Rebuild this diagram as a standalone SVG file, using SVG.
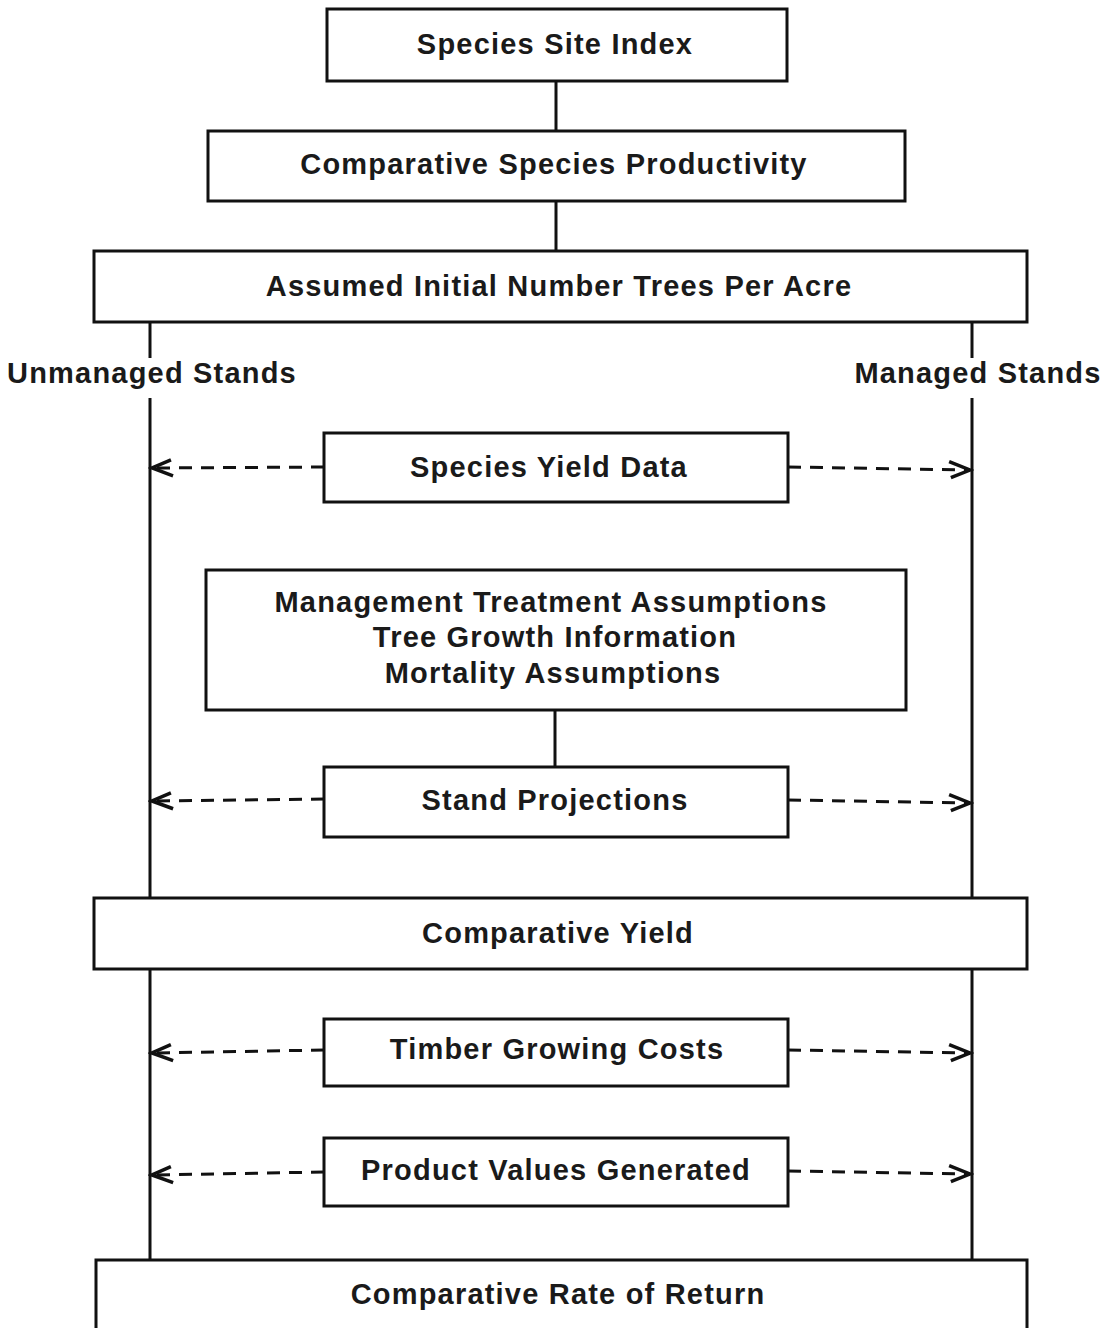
<svg xmlns="http://www.w3.org/2000/svg" width="1111" height="1328" viewBox="0 0 1111 1328">
<style>
.box{fill:#fff;stroke:#111;stroke-width:3}
.t{font-family:"Liberation Sans",Arial,sans-serif;font-weight:bold;font-size:29px;letter-spacing:1.2px;fill:#1a1a1a;text-anchor:middle}
.ln{stroke:#111;stroke-width:3;fill:none}
.dash{stroke:#111;stroke-width:3;fill:none;stroke-dasharray:13,9}
</style>
<defs>
<marker id="ah" markerWidth="28" markerHeight="24" refX="24" refY="12" orient="auto" markerUnits="userSpaceOnUse">
<path d="M3,4 L24,12 L5,20" fill="none" stroke="#111" stroke-width="3.5"/>
</marker>
</defs>
<rect width="1111" height="1328" fill="#fff"/>
<g id="connectors">
<line class="ln" x1="556" y1="81" x2="556" y2="131"/>
<line class="ln" x1="556" y1="201" x2="556" y2="251"/>
<line class="ln" x1="555" y1="710" x2="555" y2="767"/>
<line class="ln" x1="150" y1="322" x2="150" y2="358"/>
<line class="ln" x1="150" y1="398" x2="150" y2="898"/>
<line class="ln" x1="150" y1="969" x2="150" y2="1260"/>
<line class="ln" x1="972" y1="322" x2="972" y2="358"/>
<line class="ln" x1="972" y1="398" x2="972" y2="898"/>
<line class="ln" x1="972" y1="969" x2="972" y2="1260"/>
<line class="dash" x1="324" y1="467" x2="152" y2="468" marker-end="url(#ah)"/>
<line class="dash" x1="788" y1="467" x2="970" y2="470" marker-end="url(#ah)"/>
<line class="dash" x1="324" y1="799" x2="152" y2="801" marker-end="url(#ah)"/>
<line class="dash" x1="788" y1="800" x2="970" y2="803" marker-end="url(#ah)"/>
<line class="dash" x1="324" y1="1050" x2="152" y2="1053" marker-end="url(#ah)"/>
<line class="dash" x1="788" y1="1050" x2="970" y2="1053" marker-end="url(#ah)"/>
<line class="dash" x1="324" y1="1172" x2="152" y2="1175" marker-end="url(#ah)"/>
<line class="dash" x1="788" y1="1171" x2="970" y2="1174" marker-end="url(#ah)"/>
</g>
<g id="site-index"><rect class="box" x="327" y="9" width="460" height="72"/><text class="t" x="555" y="54">Species Site Index</text></g>
<g id="productivity"><rect class="box" x="208" y="131" width="697" height="70"/><text class="t" x="554" y="174">Comparative Species Productivity</text></g>
<g id="initial-trees"><rect class="box" x="94" y="251" width="933" height="71"/><text class="t" x="559" y="296">Assumed Initial Number Trees Per Acre</text></g>
<g id="unmanaged-label"><text class="t" x="152" y="383">Unmanaged Stands</text></g>
<g id="managed-label"><text class="t" x="978" y="383">Managed Stands</text></g>
<g id="yield-data"><rect class="box" x="324" y="433" width="464" height="69"/><text class="t" x="549" y="477">Species Yield Data</text></g>
<g id="assumptions"><rect class="box" x="206" y="570" width="700" height="140"/><text class="t" x="551" y="612">Management Treatment Assumptions</text><text class="t" x="555" y="647">Tree Growth Information</text><text class="t" x="553" y="683">Mortality Assumptions</text></g>
<g id="stand-projections"><rect class="box" x="324" y="767" width="464" height="70"/><text class="t" x="555" y="810">Stand Projections</text></g>
<g id="comparative-yield"><rect class="box" x="94" y="898" width="933" height="71"/><text class="t" x="558" y="943">Comparative Yield</text></g>
<g id="growing-costs"><rect class="box" x="324" y="1019" width="464" height="67"/><text class="t" x="557" y="1059">Timber Growing Costs</text></g>
<g id="product-values"><rect class="box" x="324" y="1138" width="464" height="68"/><text class="t" x="556" y="1180">Product Values Generated</text></g>
<g id="rate-of-return"><rect class="box" x="96" y="1260" width="931" height="90"/><text class="t" x="558" y="1304">Comparative Rate of Return</text></g>
</svg>
